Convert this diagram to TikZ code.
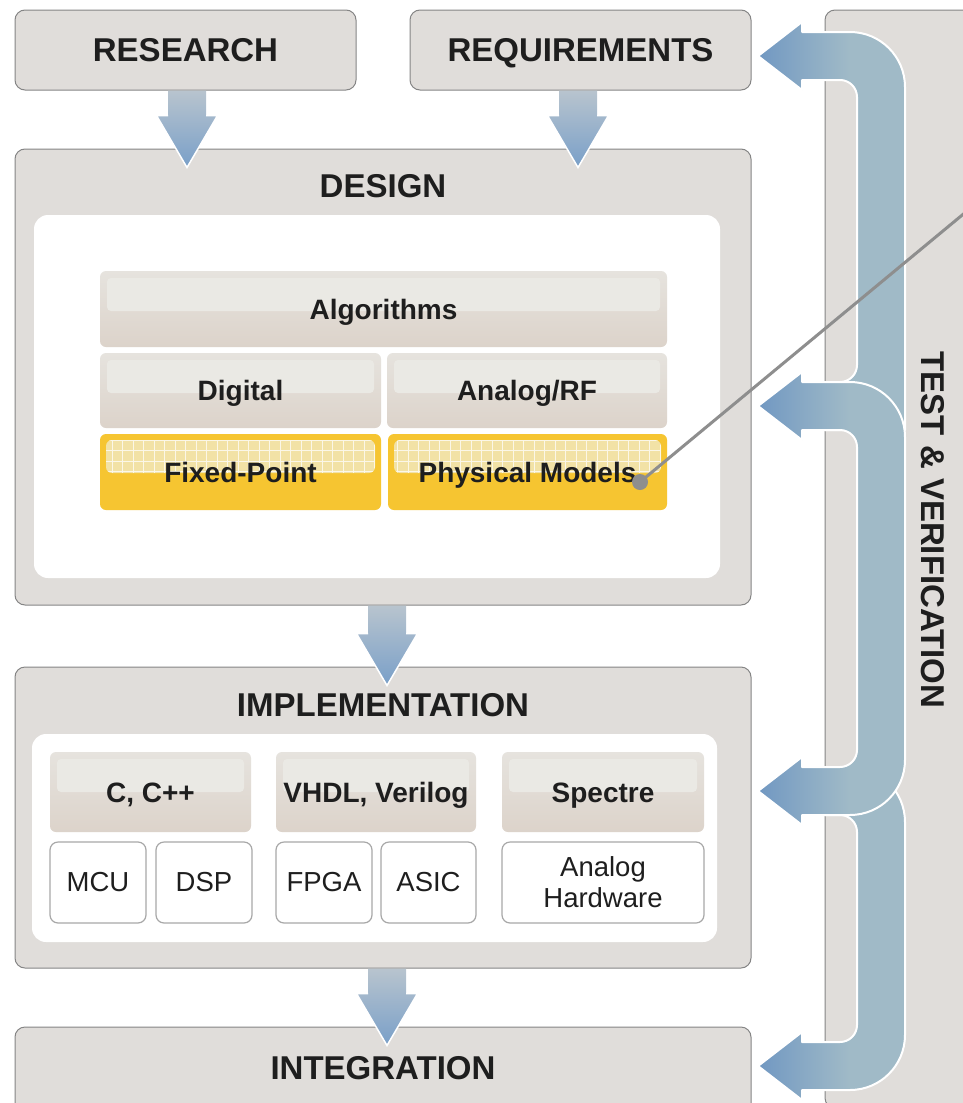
\documentclass[tikz,border=0pt]{standalone}
\usepackage{fontspec}
\setmainfont{Liberation Sans}
\usetikzlibrary{calc}
\definecolor{boxgray}{HTML}{E0DDDA}
\definecolor{boxline}{HTML}{858585}
\definecolor{txt}{HTML}{1E1E1E}
\definecolor{beigeT}{HTML}{E6E3DE}
\definecolor{beigeB}{HTML}{DCD3CA}
\definecolor{hlbeige}{HTML}{EAE9E4}
\definecolor{yel}{HTML}{F6C531}
\definecolor{hlyel}{HTML}{F2E2A6}
\definecolor{dnT}{HTML}{B8C4CE}
\definecolor{dnB}{HTML}{799FC8}
\definecolor{fbL}{HTML}{7198C2}
\definecolor{fbR}{HTML}{A0BAC7}
\definecolor{linegray}{HTML}{8E8E8E}
\definecolor{smallline}{HTML}{A8A8A8}
\pgfdeclarehorizontalshading{fbshade}{100bp}{color(0bp)=(fbL); color(25bp)=(fbL); color(56bp)=(fbR); color(100bp)=(fbR)}
\newcommand\blockdown[3]{%
  \path[dnarrow] let \p1=#1, \p2=#2 in
    (\x1+#3-19pt,\y1) -- (\x1+#3+19pt,\y1) -- (\x1+#3+19pt,\y2+33pt) -- (\x1+#3+30.5pt,\y2+33pt)
    -- (\x1+#3,\y2-19pt) -- (\x1+#3-30.5pt,\y2+33pt) -- (\x1+#3-19pt,\y2+33pt) -- cycle;
  \draw[white, line width=1.5pt, line join=miter] let \p1=#1, \p2=#2 in
    (\x1+#3+19pt,\y2+33pt) -- (\x1+#3+30.5pt,\y2+33pt) -- (\x1+#3,\y2-19pt) -- (\x1+#3-30.5pt,\y2+33pt) -- (\x1+#3-19pt,\y2+33pt);}
\begin{document}
\begin{tikzpicture}[x=1pt,y=-1pt,
  bigbox/.style={draw=boxline, line width=1pt, fill=boxgray, rounded corners=10pt, inner sep=0pt},
  title/.style={font=\bfseries\fontsize{33}{36}\selectfont, text=txt, inner sep=0pt, text height=23.6pt, text depth=0pt},
  whitebox/.style={fill=white, rounded corners=14pt, inner sep=0pt},
  lbl/.style={font=\bfseries\fontsize{28}{30}\selectfont, text=txt, text height=20pt, text depth=0pt},
  beige/.style={rounded corners=6pt, top color=beigeT, bottom color=beigeB, inner sep=0pt, lbl,
    path picture={\fill[hlbeige, rounded corners=4pt]
      ([xshift=7pt,yshift=-7pt]path picture bounding box.north west) rectangle
      ([xshift=-7pt,yshift=-40pt]path picture bounding box.north east);}},
  yellowbox/.style={rounded corners=6pt, fill=yel, inner sep=0pt, lbl,
    path picture={
      \coordinate (ba) at ([xshift=6pt,yshift=-6pt]path picture bounding box.north west);
      \coordinate (bb) at ([xshift=-6pt,yshift=-39pt]path picture bounding box.north east);
      \fill[hlyel] (ba) rectangle (bb);
      \clip (ba) rectangle (bb);
      \draw[white, line width=0.5pt, opacity=0.75, step=10.5pt] (ba) grid (bb);}},
  hwbox/.style={draw=smallline, line width=1.2pt, fill=white, rounded corners=8pt, inner sep=0pt,
    font=\fontsize{27.5}{31}\selectfont, text=txt, align=center},
  dnarrow/.style={top color=dnT, bottom color=dnB},
  fbarrow/.style={shading=fbshade, draw=white, line width=2pt, line join=round}]
\useasboundingbox (0,0) rectangle (963,1103);
\clip (0,0) rectangle (963,1103);

% test & verification column
\node[bigbox, minimum width=160pt, minimum height=1098pt] (test) at (905,559) {};
\node[title, rotate=-90] (testT) at (933,530) {TEST \& VERIFICATION};

% main boxes
\node[bigbox, minimum width=341pt, minimum height=80pt] (research) at (185.5,50) {};
\node[title] (researchT) at (185.5,50) {RESEARCH};
\node[bigbox, minimum width=341pt, minimum height=80pt] (requirements) at (580.5,50) {};
\node[title] (requirementsT) at (580.5,50) {REQUIREMENTS};

\node[bigbox, minimum width=736pt, minimum height=456pt] (design) at (383,377) {};
\node[title] (designT) at (383,186) {DESIGN};
\node[whitebox, minimum width=686pt, minimum height=363pt] (designW) at (377,396.5) {};

\node[beige, minimum width=567pt, minimum height=76pt] (alg) at (383.5,309) {Algorithms};
\node[beige, minimum width=281pt, minimum height=75pt] (digital) at (240.5,390.5) {Digital};
\node[beige, minimum width=280pt, minimum height=75pt] (analog) at (527,390.5) {Analog/RF};
\node[yellowbox, minimum width=281pt, minimum height=76pt] (fixed) at (240.5,472) {Fixed-Point};
\node[yellowbox, minimum width=279pt, minimum height=76pt] (phys) at (527.5,472) {Physical Models};

\node[bigbox, minimum width=736pt, minimum height=301pt] (impl) at (383,817.5) {};
\node[title] (implT) at (383,705) {IMPLEMENTATION};
\node[whitebox, minimum width=685pt, minimum height=208pt] (implW) at (374.5,838) {};

\node[beige, minimum width=201pt, minimum height=80pt] (cpp) at (150.5,792) {C, C++};
\node[beige, minimum width=200pt, minimum height=80pt] (vhdl) at (376,792) {VHDL, Verilog};
\node[beige, minimum width=202pt, minimum height=80pt] (spectre) at (603,792) {Spectre};
\node[hwbox, minimum width=96pt, minimum height=81pt] (mcu) at (98,882.5) {MCU};
\node[hwbox, minimum width=96pt, minimum height=81pt] (dsp) at (204,882.5) {DSP};
\node[hwbox, minimum width=96pt, minimum height=81pt] (fpga) at (324,882.5) {FPGA};
\node[hwbox, minimum width=95pt, minimum height=81pt] (asic) at (428.5,882.5) {ASIC};
\node[hwbox, minimum width=202pt, minimum height=81pt] (ahw) at (603,882.5) {Analog\\Hardware};

\node[bigbox, minimum width=736pt, minimum height=88pt] (integ) at (383,1071) {};
\node[title] (integT) at (383,1068) {INTEGRATION};

% downward block arrows
\blockdown{(research.south)}{(design.north)}{1.5pt}
\blockdown{(requirements.south)}{(design.north)}{-2.5pt}
\blockdown{(design.south)}{(impl.north)}{4pt}
\blockdown{(impl.south)}{(integ.north)}{4pt}

% feedback arrows from test & verification
\path[fbarrow] (758,56) -- (802,22) -- (802,32) -- (850,32) arc(-90:0:55) -- (905,430) -- (825,430)
  -- (825,382) -- (840,382) arc(90:0:17) -- (857,97) arc(0:-90:17) -- (802,80) -- (802,90) -- cycle;
\path[fbarrow] (825,767) -- (850,767) arc(-90:0:55) -- (905,1035) arc(0:90:55) -- (802,1090)
  -- (802,1100) -- (758,1066) -- (802,1032) -- (802,1042) -- (840,1042) arc(90:0:17)
  -- (857,832) arc(0:-90:17) -- (825,815) -- cycle;
\path[fbarrow] (758,406) -- (802,372) -- (802,382) -- (850,382) arc(-90:0:55) -- (905,760)
  arc(0:90:55) -- (802,815) -- (802,825) -- (758,791) -- (802,757) -- (802,767) -- (840,767)
  arc(90:0:17) -- (857,447) arc(0:-90:17) -- (802,430) -- (802,440) -- cycle;

% pointer line
\node[circle, fill=linegray, minimum size=16pt, inner sep=0pt] (dot) at (640,482) {};
\coordinate (lineend) at (990,192);
\draw[linegray, line width=3pt] (dot.center) -- (lineend);
\end{tikzpicture}
\end{document}
